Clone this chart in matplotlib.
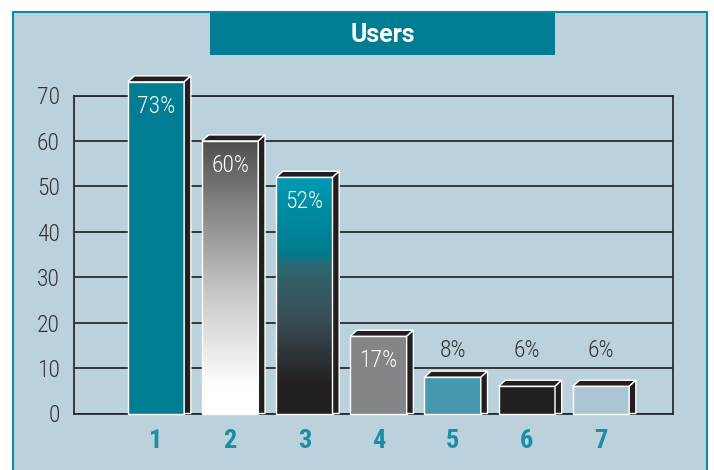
import matplotlib.pyplot as plt
import numpy as np
from matplotlib.patches import Rectangle, Polygon
from matplotlib.colors import LinearSegmentedColormap

plt.rcParams['font.family'] = ['Roboto Condensed', 'Archivo Narrow', 'DejaVu Sans']

categories = ['1', '2', '3', '4', '5', '6', '7']
values = [73, 60, 52, 17, 8, 6, 6]
labels = ['73%', '60%', '52%', '17%', '8%', '6%', '6%']
yticks = [0, 10, 20, 30, 40, 50, 60, 70]

W, H = 714, 470
bg = '#bbd1dc'
teal = '#007c93'
dark = '#231f20'

fig = plt.figure(figsize=(W/100, H/100), dpi=100)
fig.patch.set_facecolor('white')

# outer frame and title box (pixel -> figure fraction)
def fr(x0, y0, x1, y1):
    return (x0/W, 1 - y1/H), (x1 - x0)/W, (y1 - y0)/H

xy, w, h = fr(13, 12, 707, 480)
fig.add_artist(Rectangle(xy, w, h, transform=fig.transFigure, facecolor=bg,
                         edgecolor='#0a8ca2', lw=1.5, zorder=0))
xy, w, h = fr(210, 13, 555, 55)
fig.add_artist(Rectangle(xy, w, h, transform=fig.transFigure, facecolor=teal,
                         edgecolor='none', zorder=1))
fig.text(383/W, 1 - 35.5/H, 'Users', color='white', fontsize=18, fontweight='bold',
         family=['Roboto', 'DejaVu Sans'], ha='center', va='center')

ax = fig.add_axes([73.5/W, 1 - 413.5/H, 599/W, 318/H])
ax.set_facecolor('none')
ax.set_xlim(-0.112, 7.964)
ax.set_ylim(0, 70)
ax.set_yticks(yticks)
ax.yaxis.grid(True, color='#2b2b2b', lw=1.3)
ax.set_axisbelow(True)
for s in ax.spines.values():
    s.set_color('#2b2b2b')
    s.set_linewidth(1.3)
ax.tick_params(axis='both', length=0)
ax.tick_params(axis='y', pad=10, labelsize=17, labelcolor='#333333')
ax.tick_params(axis='x', pad=11, labelsize=19, labelcolor='#1b8ea6')
xs = np.arange(1, len(categories) + 1)
ax.set_xticks(xs)
ax.set_xticklabels(categories, fontweight='bold')
for t in ax.get_yticklabels():
    t.set_fontweight('light')

bw = 0.76
dx = 0.09
dy = 1.32

grey_grad = LinearSegmentedColormap.from_list(
    'g', [(0, '#ffffff'), (0.1, '#ffffff'), (0.45, '#c6c6c6'), (1, '#505052')])
teal_grad = LinearSegmentedColormap.from_list(
    't', [(0, dark), (0.12, dark), (0.4, '#3a4d55'), (0.62, '#2f6670'),
          (0.68, '#007b8c'), (0.8, '#00869c'), (1, '#0099b5')])
fills = [teal, grey_grad, teal_grad, '#838589', '#4797ae', dark, '#abc5d2']

for i, (x, v) in enumerate(zip(xs, values)):
    x0, x1 = x - bw/2, x + bw/2
    f = fills[i]
    if isinstance(f, str):
        ax.add_patch(Rectangle((x0, 0), bw, v, facecolor=f, edgecolor='white',
                               lw=1, zorder=3, clip_on=False))
    else:
        grad = np.linspace(0, 1, 256).reshape(-1, 1)
        ax.imshow(grad, cmap=f, origin='lower', extent=[x0, x1, 0, v],
                  aspect='auto', zorder=3)
        ax.add_patch(Rectangle((x0, 0), bw, v, facecolor='none', edgecolor='white',
                               lw=1, zorder=4, clip_on=False))
    # top and side faces
    ax.add_patch(Polygon([(x0, v), (x1, v), (x1 + dx, v + dy), (x0 + dx, v + dy)],
                         facecolor=dark, edgecolor='white', lw=1, zorder=4, clip_on=False))
    ax.add_patch(Polygon([(x1, 0), (x1, v), (x1 + dx, v + dy), (x1 + dx, 0)],
                         facecolor=dark, edgecolor='white', lw=1, zorder=4, clip_on=False))
    if v >= 15:
        ax.annotate(labels[i], (x, v), xytext=(0, -17.5), textcoords='offset points',
                    ha='center', va='center', color='white', fontsize=17, fontweight='light',
                    zorder=5, annotation_clip=False)
    else:
        ax.text(x, 13.9, labels[i], ha='center', va='center', color='#333333',
                fontsize=17, fontweight='light', zorder=5)

ax.set_xlim(-0.112, 7.964)
ax.set_ylim(0, 70)

plt.savefig('out.png', dpi=100)
